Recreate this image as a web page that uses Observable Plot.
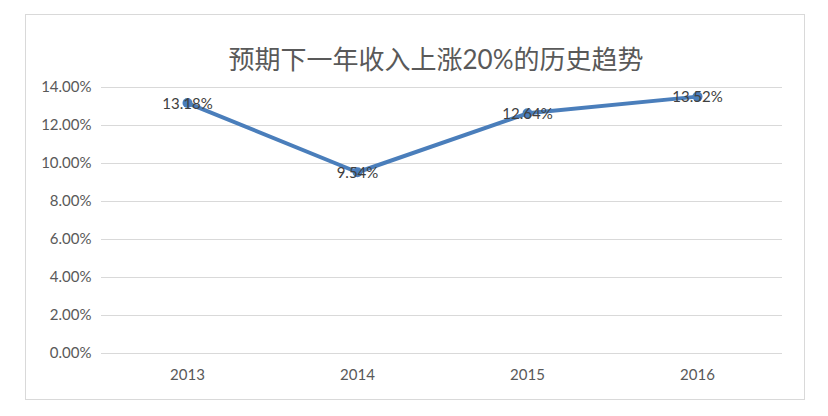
<!DOCTYPE html>
<html>
<head>
<meta charset="utf-8">
<script src="https://cdn.jsdelivr.net/npm/d3@7"></script>
<script src="https://cdn.jsdelivr.net/npm/@observablehq/plot@0.6"></script>
<style>
  html, body { margin: 0; padding: 0; background: #fff; }
  #wrap { position: relative; width: 828px; height: 416px; }
  #border { position: absolute; left: 25px; top: 14px; width: 778px; height: 384px; border: 1.5px solid #d9d9d9; pointer-events: none; }
</style>
</head>
<body>
<div id="wrap"><div id="border"></div></div>
<script>
const title = "预期下一年收入上涨20%的历史趋势";
const years = ["2013", "2014", "2015", "2016"];
const values = [0.1318, 0.0954, 0.1264, 0.1352];
const yTicks = [0, 0.02, 0.04, 0.06, 0.08, 0.10, 0.12, 0.14];

const data = years.map((y, i) => ({year: y, value: values[i]}));
const fmt = d3.format(".2%");
const font = "Lato, 'Noto Sans CJK SC', sans-serif";
const lineColor = "#4a7ebb";

const chart = Plot.plot({
  width: 828,
  height: 416,
  marginLeft: 101,
  marginRight: 46,
  marginTop: 87,
  marginBottom: 63,
  style: {fontFamily: font, fontSize: "15px", color: "#595959", background: "transparent"},
  x: {type: "point", domain: years, padding: 0.5, label: null, tickSize: 0, tickPadding: 16},
  y: {domain: [0, 0.14], ticks: yTicks, tickFormat: fmt, label: null, tickSize: 0, tickPadding: 10},
  marks: [
    Plot.ruleY(yTicks, {stroke: "#d9d9d9", strokeWidth: 1.2}),
    Plot.line(data, {x: "year", y: "value", stroke: lineColor, strokeWidth: 4, strokeLinejoin: "round"}),
    Plot.dot(data, {x: "year", y: "value", r: 5, fill: lineColor, stroke: "none"}),
    Plot.text(data, {x: "year", y: "value", text: d => fmt(d.value), fill: "#404040", fontSize: 15, dy: 1}),
    Plot.text([title], {frameAnchor: "top", dy: -27, dx: -6, lineAnchor: "middle", fontSize: 26, fill: "#595959", fontFamily: font})
  ]
});
document.getElementById("wrap").prepend(chart);
</script>
</body>
</html>
